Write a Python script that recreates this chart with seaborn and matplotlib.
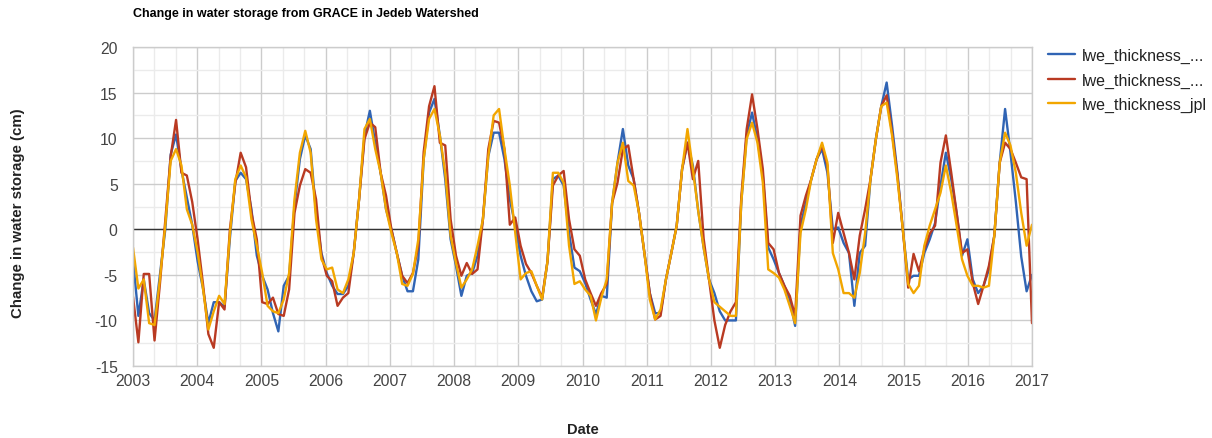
import numpy as np
import pandas as pd
import matplotlib
matplotlib.use("Agg")
import matplotlib.pyplot as plt
import seaborn as sns
from matplotlib.ticker import MultipleLocator

# ---- data (cm), monthly 2003 .. 2016 ----
csr = [
    -3.3, -9.5, -5.5, -9.2, -10, -5, 0, 8.2, 10.4, 6.5, 3.5, 0.5,
    -3.5, -6.5, -10.3, -8, -8, -8.5, -1, 5.3, 6.2, 5.5, 2.2, -2.9,
    -5.1, -6.6, -9.2, -11.2, -6.2, -5.1, 2.6, 7.7, 10.3, 8.8, 1.8, -2.6,
    -4.8, -6.2, -7.1, -7.1, -6.2, -2.6, 3.3, 10.3, 13, 9.5, 6.2, 2.2,
    0, -2.6, -5.1, -6.8, -6.8, -3.3, 7.7, 12.8, 14.3, 10.3, 5.5, -1.1,
    -4, -7.3, -5.1, -4.8, -2.9, 1.1, 8, 10.6, 10.6, 7.7, 3.3, 0.4,
    -2.9, -5.1, -6.8, -7.9, -7.7, -3.5, 5.5, 5.9, 4.8, -0.4, -4.2, -4.6,
    -5.9, -7.7, -9.3, -7.3, -7.5, 2.9, 7.3, 11, 7, 5.5, 1.8, -2.6,
    -7, -9.2, -9.2, -5.5, -2.6, 0.4, 6.6, 9.5, 7, 2, -2, -5.5,
    -7, -9, -10, -10, -10, 3, 10.3, 12.8, 9.9, 5.9, -2, -3.3,
    -4.8, -6.2, -7.7, -10.6, 0.4, 2.9, 5.5, 7.7, 8.8, 6.2, 0, 0.2,
    -1.5, -2.6, -8.4, -2.6, -1.8, 5.5, 9.9, 13.5, 16.1, 11.4, 6.2, 0,
    -5.5, -5.1, -5.1, -2.6, -1.1, 0.7, 4.8, 8.4, 5.5, 1.8, -2.9, -1.1,
    -5.5, -7, -6.2, -4.4, -0.7, 7.3, 13.2, 8.4, 3, -3, -6.8, -5,
]
gfz = [
    -7.4, -12.4, -4.9, -4.9, -12.2, -6, 1, 8, 12, 6.2, 5.9, 3,
    -1.1, -6, -11.5, -13, -8, -8.8, 0, 5, 8.4, 6.8, 1.8, -1.1,
    -8, -8.2, -7.5, -9.3, -9.5, -6.6, 1.8, 4.8, 6.6, 6.2, 3.3, -2.9,
    -5.1, -5.7, -8.4, -7.5, -7, -2.6, 3.3, 9.9, 11.7, 11.2, 6.2, 3.7,
    0, -2.6, -5.1, -5.9, -4.8, -1.8, 8.5, 13.5, 15.7, 9.5, 9.2, 1.1,
    -2.9, -5.1, -3.7, -4.9, -4.4, 1.1, 8.8, 11.9, 11.7, 8.8, 0.5, 1.3,
    -1.8, -3.8, -4.8, -6.2, -7.5, -3.5, 4.8, 5.9, 6.4, 1.1, -2.2, -2.9,
    -5.5, -7, -8.4, -7, -6, 2.9, 5.1, 8.8, 9.2, 5.5, 1.8, -2.6,
    -7, -9.9, -9.5, -5.5, -2.6, 0.4, 6.6, 9.5, 5.5, 7.5, -1, -5.5,
    -10, -13, -10.5, -9, -8, 3.5, 11, 14.8, 11, 6.6, -1.5, -2.2,
    -4.8, -6.2, -7.3, -9.5, 1.5, 3.7, 5.5, 7.7, 9.2, 7, -1.5, 1.8,
    -0.4, -2.6, -5.5, -0.7, 2.2, 5.5, 9.9, 13.5, 14.7, 10.6, 5.9, 0,
    -6.4, -2.7, -4.6, -2.2, -0.5, 0.4, 7.3, 10.3, 6.2, 1.8, -2.6, -2.2,
    -5.9, -8.2, -6.2, -4, -0.7, 7.3, 9.5, 8.8, 7.3, 5.7, 5.5, -10.3,
]
jpl = [
    -2, -6.5, -5.5, -10.3, -10.5, -5.5, 0.5, 7.5, 8.8, 7, 2.2, 0.5,
    -2.5, -6.5, -11, -9, -7.3, -8.2, -0.5, 5.5, 7, 5.7, 1.1, -1.8,
    -4.8, -8.4, -9, -9.2, -7.7, -4.8, 3.3, 8.4, 10.8, 8.4, 1.1, -3.3,
    -4.4, -4.2, -6.6, -7, -5.5, -2.6, 3.3, 11, 12.1, 8.8, 6.2, 2.2,
    -0.4, -2.6, -6, -6.2, -4.9, -1.1, 7.7, 12.1, 13.2, 10.3, 6.2, -0.7,
    -3.7, -6.4, -5.5, -4.4, -1.8, 1.1, 8, 12.5, 13.2, 8.8, 4.8, -0.4,
    -5.5, -4.8, -4.6, -6.2, -7.7, -3.5, 6.2, 6.2, 5.1, -1.8, -6, -5.7,
    -6.6, -7.3, -10, -7.5, -5.5, 2.9, 7.3, 9.5, 5.3, 4.8, 1.8, -2.6,
    -7.7, -9.9, -8.8, -5.5, -2.6, 0.4, 6.6, 11, 6.6, 2, -2, -5.5,
    -8, -8.5, -9, -9.5, -9.5, 3, 9.9, 11.7, 9.5, 5.1, -4.4, -4.8,
    -5.3, -6.6, -8.4, -10.3, -0.4, 2.2, 5.5, 7.7, 9.5, 7.3, -2.6, -4.4,
    -7, -7, -7.5, -4.8, -0.4, 5.5, 9.9, 13.5, 13.9, 10.3, 5.5, 0,
    -6, -7, -6.2, -1.8, 0.4, 2.2, 4, 7, 4, 0.4, -3.3, -5.1,
    -6.2, -6.2, -6.4, -6.2, -0.7, 7.3, 10.6, 9.2, 6.2, 1.8, -1.8, 0.5,
]
series_names = ["lwe_thickness_csr", "lwe_thickness_gfz", "lwe_thickness_jpl"]
legend_labels = ["lwe_thickness_...", "lwe_thickness_...", "lwe_thickness_jpl"]
year_ticks = list(range(2003, 2018))
colors = ["#3064b4", "#b93a22", "#f2a600"]

n = len(csr)
dates = 2003 + np.arange(n) * (14.0 / (n - 1))
df = pd.concat([
    pd.DataFrame({"Date": dates, "value": vals, "series": name})
    for name, vals in zip(series_names, [csr, gfz, jpl])
], ignore_index=True)

sns.set_theme(style="white")
plt.rcParams["font.family"] = ["Liberation Sans", "DejaVu Sans"]
plt.rcParams["axes.unicode_minus"] = False

fig = plt.figure(figsize=(12.12, 4.39), dpi=100)
ax = fig.add_axes([133 / 1212, 1 - 367 / 439, (1032 - 133) / 1212, (367 - 48) / 439])

sns.lineplot(data=df, x="Date", y="value", hue="series", palette=colors,
             linewidth=1.7, ax=ax, legend=True)

ax.set_xlim(2003, 2017)
ax.set_ylim(-15, 20)
ax.set_xticks(year_ticks)
ax.set_xticklabels([str(y) for y in year_ticks])
ax.xaxis.set_minor_locator(MultipleLocator(1 / 3))
ax.yaxis.set_major_locator(MultipleLocator(5))
ax.yaxis.set_minor_locator(MultipleLocator(2.5))
ax.grid(which="major", color="#cccccc", linewidth=1.0)
ax.grid(which="minor", color="#ebebeb", linewidth=1.0)
ax.set_axisbelow(True)
ax.axhline(0, color="#333333", linewidth=1.0, zorder=1.5)
ax.tick_params(which="both", length=0, labelsize=11.3, labelcolor="#444444")
ax.tick_params(axis="y", pad=11)
ax.tick_params(axis="x", pad=5)
for s in ax.spines.values():
    s.set_color("#cccccc")
    s.set_linewidth(1.0)

ax.set_xlabel("")
ax.set_ylabel("")
fig.text(133 / 1212, 1 - 14 / 439, "Change in water storage from GRACE in Jedeb Watershed",
         fontsize=9.0, fontweight="bold", color="#000000", ha="left", va="center")
fig.text(18 / 1212, 1 - 213 / 439, "Change in water storage (cm)", rotation=90,
         fontsize=10.8, fontweight="bold", color="#222222", ha="center", va="center")
fig.text(583 / 1212, 1 - 430 / 439, "Date", fontsize=10.5, fontweight="bold",
         color="#222222", ha="center", va="center")

handles, _ = ax.get_legend_handles_labels()
ax.legend(handles[:3], legend_labels, loc="upper left",
          bbox_to_anchor=(1048 / 1212, 1 - 49 / 439), bbox_transform=fig.transFigure,
          frameon=False, fontsize=11.5, handlelength=1.7, handletextpad=0.45,
          labelspacing=0.58, borderaxespad=0, borderpad=0)
for t in ax.get_legend().get_texts():
    t.set_color("#222222")

fig.savefig("out.png", dpi=100)
